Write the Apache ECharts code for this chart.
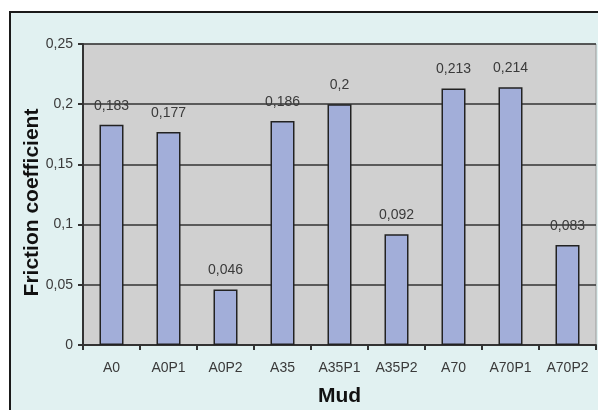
<!DOCTYPE html>
<html>
<head>
<meta charset="utf-8">
<script src="https://cdn.jsdelivr.net/npm/echarts@6/dist/echarts.min.js"></script>
<style>
  html,body{margin:0;padding:0;background:#fff;}
  #chart{width:598px;height:410px;}
</style>
</head>
<body>
<div id="chart"></div>
<script>
var muds = ['A0','A0P1','A0P2','A35','A35P1','A35P2','A70','A70P1','A70P2'];
var friction = [0.183,0.177,0.046,0.186,0.2,0.092,0.213,0.214,0.083];

function comma(v){
  return String(+(+v).toFixed(3)).replace('.', ',');
}

var chart = echarts.init(document.getElementById('chart'));
var font = 'Liberation Sans, Arial, sans-serif';

chart.setOption({
  backgroundColor:'#ffffff',
  animation:false,
  textStyle:{fontFamily:font},
  graphic:[{
    type:'rect',
    z:-10,
    silent:true,
    shape:{x:10,y:12,width:600,height:410},
    style:{fill:'#e1f1f1',stroke:'#1a1a1a',lineWidth:2}
  }],
  grid:{
    left:83, top:44, right:2, bottom:65,
    outerBoundsMode:'none',
    containLabel:false,
    show:true,
    backgroundColor:'#d0d0d0',
    borderColor:'#9a9a9a',
    borderWidth:1
  },
  xAxis:{
    type:'category',
    data:muds,
    name:'Mud',
    nameLocation:'middle',
    nameGap:41,
    nameMoveOverlap:false,
    nameTextStyle:{fontSize:21,fontWeight:'bold',color:'#111',fontFamily:font},
    axisLine:{lineStyle:{color:'#333',width:2}},
    axisTick:{show:true,length:5,lineStyle:{color:'#333',width:2}},
    axisLabel:{color:'#3a3a3a',fontSize:14,margin:16,interval:0}
  },
  yAxis:{
    type:'value',
    min:0,
    max:0.25,
    interval:0.05,
    name:'Friction coefficient',
    nameLocation:'middle',
    nameGap:40,
    nameMoveOverlap:false,
    nameTextStyle:{fontSize:21,fontWeight:'bold',color:'#111',fontFamily:font,padding:[0,16,0,0]},
    axisLine:{show:true,lineStyle:{color:'#333',width:2}},
    axisTick:{show:true,length:5,lineStyle:{color:'#333',width:2}},
    axisLabel:{color:'#3a3a3a',fontSize:14,margin:10,formatter:comma},
    splitLine:{show:true,lineStyle:{color:'#333',width:1.5}}
  },
  series:[{
    type:'bar',
    data:friction,
    barWidth:24,
    itemStyle:{color:'#a2aed9',borderColor:'#222',borderWidth:1.5},
    label:{
      show:true,
      position:'top',
      distance:12,
      color:'#3a3a3a',
      fontSize:14,
      formatter:function(p){return comma(p.value);}
    }
  }]
});
</script>
</body>
</html>
